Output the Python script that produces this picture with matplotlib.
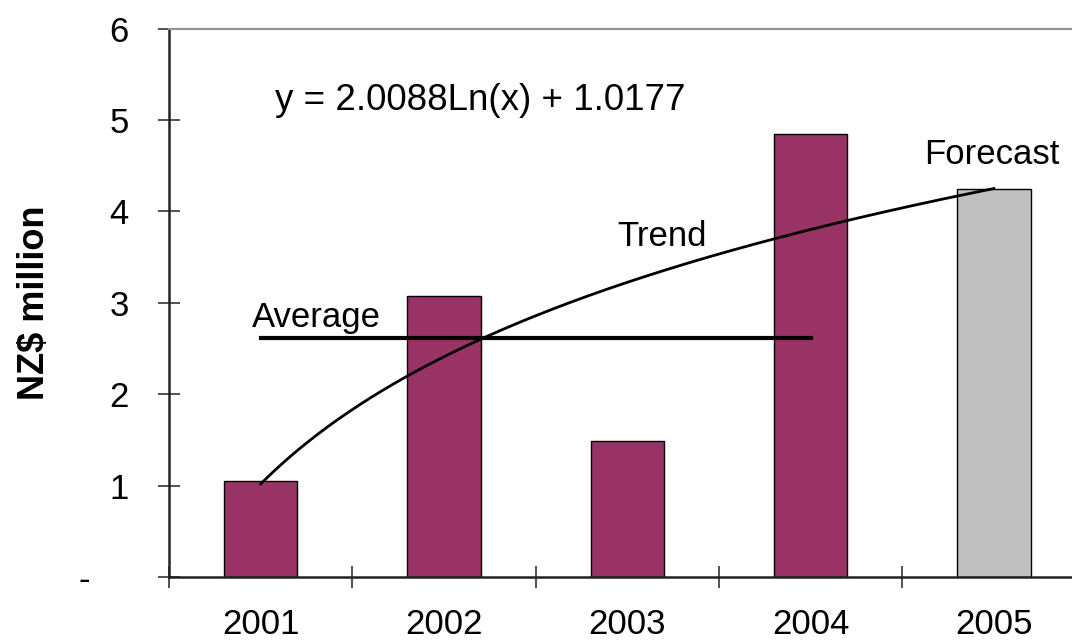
import matplotlib
matplotlib.use("Agg")
import matplotlib.pyplot as plt
import numpy as np

years = ["2001", "2002", "2003", "2004", "2005"]
values = [1.05, 3.07, 1.49, 4.85, 4.25]
bar_colors = ["#993366", "#993366", "#993366", "#993366", "#C0C0C0"]
average_value = 2.62
average_span = ["2001", "2004"]
trend_a = 2.0088
trend_b = 1.0177
equation_text = "y = 2.0088Ln(x) + 1.0177"
y_ticks = [0, 1, 2, 3, 4, 5, 6]
y_ticklabels = ["-    ", "1", "2", "3", "4", "5", "6"]

plt.rcParams['font.family'] = ['Liberation Sans', 'DejaVu Sans']

fig = plt.figure(figsize=(10.72, 6.44), dpi=100)
ax = fig.add_axes([169/1072, 1-577/644, 916.5/1072, (577-28.7)/644])

x = np.arange(len(years))
ax.bar(x, values, width=0.40, color=bar_colors, edgecolor="black", linewidth=1.0, zorder=2)

# average line
i0, i1 = years.index(average_span[0]), years.index(average_span[1])
ax.plot([i0, i1], [average_value, average_value], color="black", linewidth=3, zorder=3)

# trend line (from displayed equation)
xt = np.linspace(1, len(years), 200)
ax.plot(xt - 1, trend_a * np.log(xt) + trend_b, color="black", linewidth=2, zorder=3)

ax.set_xlim(-0.5, len(years) - 0.5)
ax.set_ylim(0, 6)

ax.set_xticks(np.arange(len(years) + 1) - 0.5)
ax.set_xticklabels([])
ax.set_xticks(x, minor=True)
ax.set_xticklabels(years, minor=True, fontsize=25)
ax.tick_params(axis='x', which='minor', length=0, pad=22)
ax.tick_params(axis='x', which='major', direction='inout', length=16, width=1.2, color='#333333')

ax.set_yticks(y_ticks)
ax.set_yticklabels(y_ticklabels, fontsize=25)
ax.tick_params(axis='y', direction='inout', length=16, width=1.2, color='#333333', pad=21)

for s in ['left', 'bottom']:
    ax.spines[s].set_color('#222222')
    ax.spines[s].set_linewidth(1.8)
ax.spines['top'].set_color('#909090')
ax.spines['top'].set_linewidth(1.5)
ax.spines['right'].set_visible(False)

ax.set_ylabel("NZ$ million", fontsize=26, fontweight='bold')
ax.yaxis.set_label_coords(-0.128, 0.5)

def dx(px):
    return (px - 169) / 183.3 - 0.5

def dy(py):
    return (577 - py) / 91.4

ax.text(dx(275), dy(110), equation_text, fontsize=26.5, ha='left', va='baseline')
ax.text(dx(252), dy(327), "Average", fontsize=25, ha='left', va='baseline')
ax.text(dx(617), dy(246), "Trend", fontsize=25, ha='left', va='baseline')
ax.text(dx(924), dy(164), "Forecast", fontsize=25, ha='left', va='baseline')

fig.savefig("out.png", dpi=100)
